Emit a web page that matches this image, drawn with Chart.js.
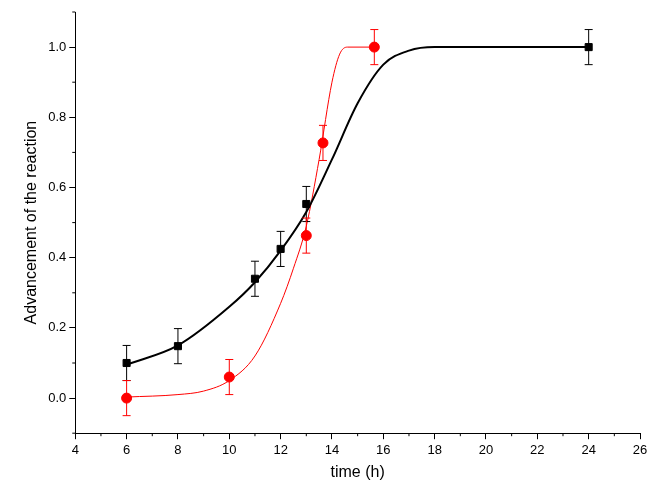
<!DOCTYPE html>
<html>
<head>
<meta charset="utf-8" />
<script src="https://cdn.jsdelivr.net/npm/chart.js"></script>
<style>
  html, body { margin: 0; padding: 0; background: #fff; }
  #wrap { width: 652px; height: 486px; }
</style>
</head>
<body>
<div id="wrap"><canvas id="c"></canvas></div>
<script>
// measured points (time h, advancement)
const blackX = [6, 8, 11, 12, 13, 24];
const blackY = [0.10, 0.148, 0.34, 0.425, 0.553, 1.0];
const redX = [6, 10, 13, 13.65, 15.65];
const redY = [0.0, 0.06, 0.463, 0.727, 1.0];
const errVal = 0.05;

// fitted curves
const blackFitX = [6, 8, 10, 11, 12, 13, 14, 15, 16, 17, 18, 20, 24];
const blackFitY = [0.095, 0.15, 0.26, 0.33, 0.42, 0.53, 0.68, 0.84, 0.95, 0.99, 1.0, 1.0, 1.0];
const redFitX = [6, 8, 9, 10, 11, 12, 12.5, 13, 13.5, 14, 14.3, 14.6, 15.65];
const redFitY = [0.003, 0.01, 0.02, 0.05, 0.12, 0.27, 0.37, 0.49, 0.68, 0.9, 0.98, 1.0, 1.0];

const xTicks = [4, 6, 8, 10, 12, 14, 16, 18, 20, 22, 24, 26];
const yTicks = [0.0, 0.2, 0.4, 0.6, 0.8, 1.0];

const pts = (xs, ys) => xs.map((x, i) => ({ x: x, y: ys[i] }));

// error bars + minor ticks
const extras = {
  id: 'extras',
  afterDatasetsDraw(chart) {
    const ctx = chart.ctx, xs = chart.scales.x, ys = chart.scales.y;
    ctx.save();
    [[blackX, blackY, '#000'], [redX, redY, '#f00']].forEach(([X, Y, col]) => {
      ctx.strokeStyle = col; ctx.lineWidth = 1;
      X.forEach((x, i) => {
        const px = xs.getPixelForValue(x);
        const t = ys.getPixelForValue(Y[i] + errVal), b = ys.getPixelForValue(Y[i] - errVal);
        ctx.beginPath();
        ctx.moveTo(px, t); ctx.lineTo(px, b);
        ctx.moveTo(px - 4, t); ctx.lineTo(px + 4, t);
        ctx.moveTo(px - 4, b); ctx.lineTo(px + 4, b);
        ctx.stroke();
      });
    });
    ctx.strokeStyle = '#000';
    ctx.beginPath();
    for (let v = 5; v < 26; v += 2) {
      const px = xs.getPixelForValue(v);
      ctx.moveTo(px, ys.bottom); ctx.lineTo(px, ys.bottom + 3);
    }
    for (let v = -0.1; v < 1.1; v += 0.2) {
      const py = ys.getPixelForValue(v);
      ctx.moveTo(xs.left, py); ctx.lineTo(xs.left - 3, py);
    }
    ctx.stroke();
    ctx.restore();
  }
};

const font = { family: 'Liberation Sans, Arial', size: 13 };

new Chart(document.getElementById('c'), {
  type: 'scatter',
  data: {
    datasets: [
      { data: pts(blackFitX, blackFitY), showLine: true, borderColor: '#000', borderWidth: 2, pointRadius: 0, cubicInterpolationMode: 'monotone' },
      { data: pts(redFitX, redFitY), showLine: true, borderColor: '#f00', borderWidth: 1, pointRadius: 0, cubicInterpolationMode: 'monotone' },
      { data: pts(blackX, blackY), pointStyle: 'rect', pointRadius: 5, backgroundColor: '#000', borderColor: '#000' },
      { data: pts(redX, redY), pointStyle: 'circle', pointRadius: 5, backgroundColor: '#f00', borderColor: '#f00' }
    ]
  },
  options: {
    responsive: true,
    maintainAspectRatio: false,
    animation: false,
    layout: { padding: { top: 12, right: 12, left: 18, bottom: 2 } },
    plugins: { legend: { display: false }, tooltip: { enabled: false } },
    scales: {
      x: {
        type: 'linear', min: 4, max: 26,
        afterBuildTicks: s => { s.ticks = xTicks.map(v => ({ value: v })); },
        ticks: { color: '#000', font: font, maxRotation: 0 },
        grid: { drawOnChartArea: false, tickLength: 6, color: '#000' },
        border: { color: '#000', width: 1 },
        title: { display: true, text: 'time (h)', color: '#000', font: { family: font.family, size: 16 }, padding: 2 }
      },
      y: {
        type: 'linear', min: -0.1, max: 1.1,
        afterBuildTicks: s => { s.ticks = yTicks.map(v => ({ value: v })); },
        ticks: { color: '#000', font: font, callback: v => v.toFixed(1) },
        grid: { drawOnChartArea: false, tickLength: 6, color: '#000' },
        border: { color: '#000', width: 1 },
        title: { display: true, text: 'Advancement of the reaction', color: '#000', font: { family: font.family, size: 16 }, padding: 4 }
      }
    }
  },
  plugins: [extras]
});
</script>
</body>
</html>
